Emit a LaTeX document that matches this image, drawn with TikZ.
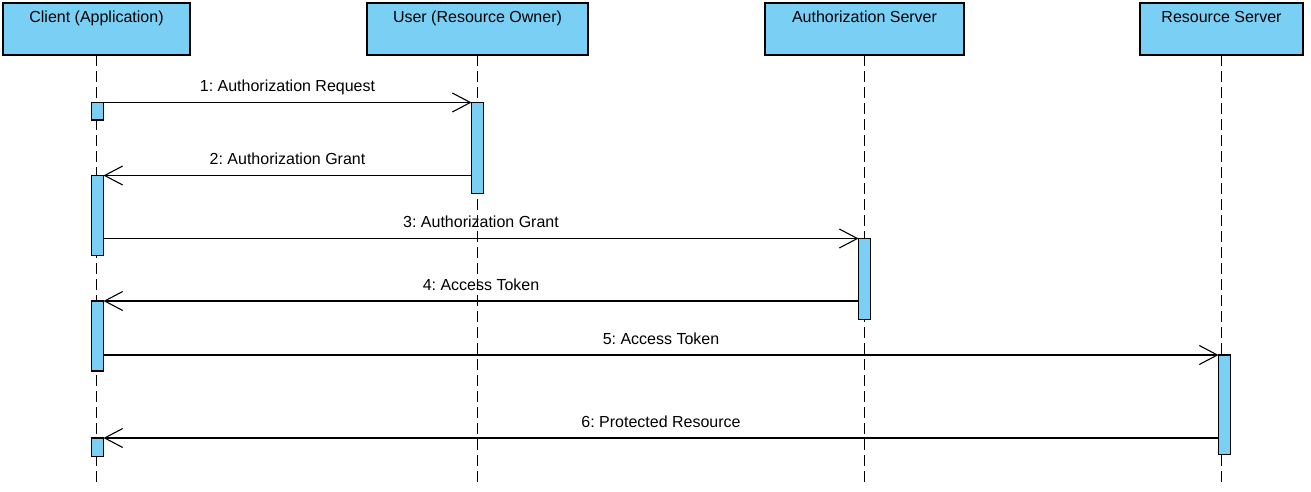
\documentclass[tikz,border=0pt]{standalone}
\usepackage{fontspec}
\setmainfont{Liberation Sans}
\frenchspacing
\usetikzlibrary{arrows.meta}
\definecolor{lifeblue}{RGB}{122,207,245}
\tikzset{
  head/.style={draw=black, fill=lifeblue, line width=1.1pt, rectangle, inner sep=0pt, outer sep=0pt, anchor=north west},
  headtext/.style={anchor=base, inner sep=0pt, font=\fontsize{16}{19}\selectfont},
  act/.style={draw=black, fill=lifeblue, line width=1.1pt, rectangle, inner sep=0pt, outer sep=0pt, minimum width=12pt, anchor=north},
  life/.style={line width=1.1pt, dash pattern=on 11pt off 5pt},
  msg/.style={line width=1.1pt, -{Straight Barb[length=18pt,width=19pt,line width=1.1pt]}},
  msglabel/.style={anchor=base, inner sep=0pt, font=\fontsize{16}{19}\selectfont},
}
\begin{document}
\begin{tikzpicture}[x=1pt,y=-1pt]
\useasboundingbox (0,0) rectangle (1311,492);
% headers
\node[head, minimum width=187pt, minimum height=52pt] (c) at (3,3) {};
\node[head, minimum width=221pt, minimum height=52pt] (u) at (367,3) {};
\node[head, minimum width=199pt, minimum height=52pt] (a) at (765,3) {};
\node[head, minimum width=163pt, minimum height=52pt] (r) at (1140,3) {};
\node[headtext] (ct) at (96.5,22.5) {Client (Application)};
\node[headtext] (ut) at (477.5,22.5) {User (Resource Owner)};
\node[headtext] (at) at (864.5,22.5) {Authorization Server};
\node[headtext] (rt) at (1221.5,22.5) {Resource Server};
% lifeline ends
\coordinate (ce) at (96.5,486);
\coordinate (ue) at (477.5,486);
\coordinate (ae) at (864.5,486);
\coordinate (re) at (1221.5,486);
\draw[life] (96.5,55) -- (ce);
\draw[life] (477.5,55) -- (ue);
\draw[life] (864.5,55) -- (ae);
\draw[life] (1221.5,55) -- (re);
% activations
\node[act, minimum height=17.5pt] (ca1) at (97.5,102.5) {};
\node[act, minimum height=91pt] (ua) at (477.5,102.5) {};
\node[act, minimum height=80pt] (ca2) at (97.5,175.5) {};
\node[act, minimum height=81pt] (aa) at (864.5,238.5) {};
\node[act, minimum height=70pt] (ca3) at (97.5,301) {};
\node[act, minimum height=99.5pt] (ra) at (1224.5,355) {};
\node[act, minimum height=18.5pt] (ca4) at (97.5,438) {};
% messages
\draw[msg] (ca1.north east) -- node[msglabel, above=11pt, anchor=base] {1: Authorization Request} (ca1.north east -| ua.west);
\draw[msg] (ua.west |- ca2.north) -- node[msglabel, above=11pt, anchor=base] {2: Authorization Grant} (ca2.north east);
\draw[msg] (ca2.east |- aa.north) -- node[msglabel, above=11pt, anchor=base] {3: Authorization Grant} (aa.north west);
\draw[msg] (aa.west |- ca3.north) -- node[msglabel, above=11pt, anchor=base] {4: Access Token} (ca3.north east);
\draw[msg] (ca3.east |- ra.north) -- node[msglabel, above=11pt, anchor=base] {5: Access Token} (ra.north west);
\draw[msg] (ra.west |- ca4.north) -- node[msglabel, above=11pt, anchor=base] {6: Protected Resource} (ca4.north east);
% redraw activations on top
\foreach \n in {ca1,ua,ca2,aa,ca3,ra,ca4}{
  \draw[line width=1.1pt, fill=lifeblue] (\n.north west) rectangle (\n.south east);
}
\end{tikzpicture}
\end{document}
